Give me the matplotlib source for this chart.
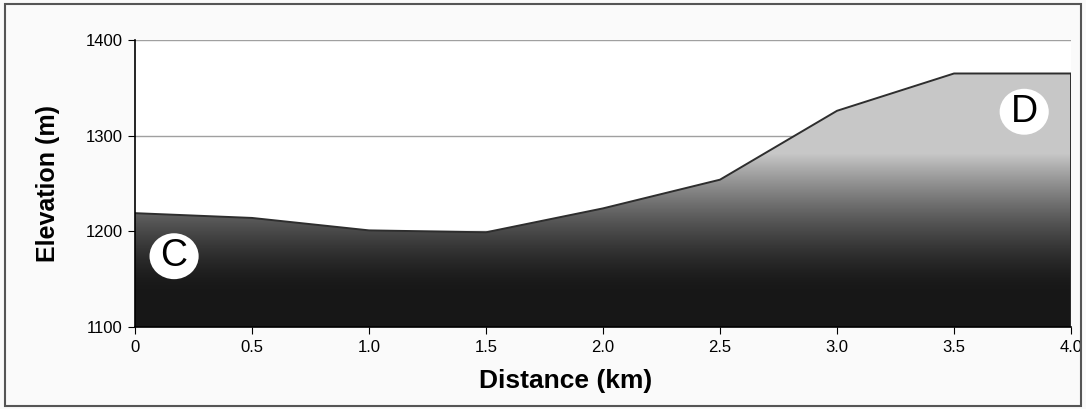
import numpy as np
import matplotlib
matplotlib.use('Agg')
import matplotlib.pyplot as plt
from matplotlib.colors import LinearSegmentedColormap
from matplotlib.patches import Polygon, Ellipse, Rectangle

# elevation profile
distance = [0.0, 0.5, 1.0, 1.25, 1.5, 2.0, 2.5, 3.0, 3.5, 4.0]
elevation = [1219, 1214, 1201, 1200, 1199, 1224, 1254, 1326, 1365, 1365]
x_ticks = [0, 0.5, 1.0, 1.5, 2.0, 2.5, 3.0, 3.5, 4.0]
x_labels = ['0', '0.5', '1.0', '1.5', '2.0', '2.5', '3.0', '3.5', '4.0']
y_ticks = [1100, 1200, 1300, 1400]

plt.rcParams['font.family'] = ['Liberation Sans', 'DejaVu Sans']

fig = plt.figure(figsize=(10.86, 4.09), dpi=100, facecolor='#fafafa')
ax = fig.add_axes([135 / 1086, 1 - 327 / 409, 936 / 1086, 287 / 409])
ax.set_facecolor('white')
ax.set_xlim(0, 4)
ax.set_ylim(1100, 1400)

# vertical grey gradient clipped to the profile
t = np.linspace(0, 1, 256)
cmap = LinearSegmentedColormap.from_list('g', [(0.094 + 0.69 * v ** 1.5,) * 3 for v in t])
lo, hi = 1139, 1282
yy = np.linspace(1100, 1400, 600)
grad = np.clip((yy - lo) / (hi - lo), 0, 1)[:, None]
im = ax.imshow(grad, extent=[0, 4, 1100, 1400], origin='lower', aspect='auto',
               cmap=cmap, vmin=0, vmax=1, zorder=2, interpolation='bilinear')
poly_pts = [(distance[0], 1100)] + list(zip(distance, elevation)) + [(distance[-1], 1100)]
poly = Polygon(poly_pts, closed=True, fc='none', ec='none', transform=ax.transData)
ax.add_patch(poly)
im.set_clip_path(poly)

ax.plot(distance + [distance[-1]], elevation + [1100], color='#2e2e2e', lw=1.4, zorder=3)

ax.set_yticks(y_ticks)
ax.yaxis.grid(True, color='#a0a0a0', lw=1)
ax.set_axisbelow(True)
ax.set_xticks(x_ticks)
ax.set_xticklabels(x_labels)
ax.tick_params(labelsize=12, length=5, color='black', pad=4)
for s in ['top', 'right']:
    ax.spines[s].set_visible(False)
for s in ['left', 'bottom']:
    ax.spines[s].set_color('black')
    ax.spines[s].set_linewidth(1.2)
    ax.spines[s].set_zorder(4)

ax.set_xlabel('Distance (km)', fontsize=19, fontweight='bold', va='center')
ax.set_ylabel('Elevation (m)', fontsize=18, fontweight='bold', va='center')
ax.xaxis.set_label_coords((566 - 135) / 936, -(381 - 327) / 287)
ax.yaxis.set_label_coords(-(135 - 48) / 936, 0.5)

# start / end markers
for lbl, cx, cy in [('C', 0.167, 1174), ('D', 3.80, 1325)]:
    ax.add_patch(Ellipse((cx, cy), 0.21, 48, fc='white', ec='none', zorder=5))
    ax.text(cx, cy, lbl, fontsize=27, ha='center', va='center', zorder=6)

fig.patches.append(Rectangle((5 / 1086, 3 / 409), 1076 / 1086, 402 / 409,
                             transform=fig.transFigure, fill=False, ec='#555555', lw=1.5))

fig.savefig('out.png', dpi=100, facecolor=fig.get_facecolor())
